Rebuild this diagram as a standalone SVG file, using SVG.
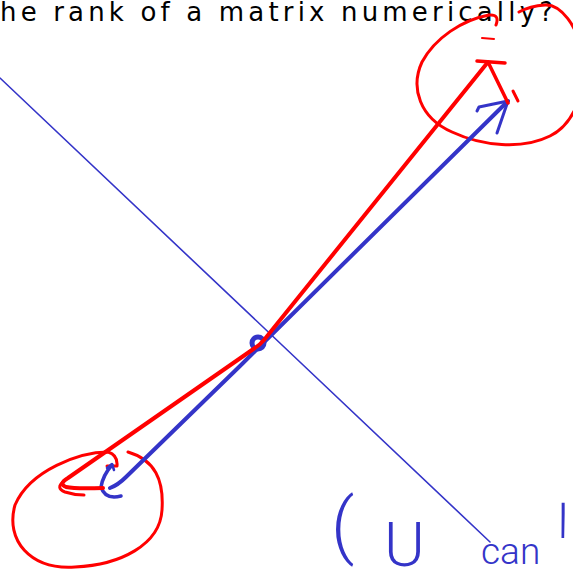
<svg xmlns="http://www.w3.org/2000/svg" width="573" height="571" viewBox="0 0 573 571">
<style>
.red{fill:none;stroke:#ff0000;stroke-linecap:round;stroke-linejoin:round}
.blue{fill:none;stroke:#3434c8;stroke-linecap:round;stroke-linejoin:round}
.title{font-family:"DejaVu Sans","Liberation Sans",sans-serif;font-size:26px;fill:#000}
.hand{font-family:Roboto,Lato,"Liberation Sans",sans-serif;font-weight:300;fill:#3434c8}
</style>
<rect width="573" height="571" fill="#fff"/>
<g id="title">
<text class="title" x="0" y="21" textLength="553" lengthAdjust="spacing">he rank of a matrix numerically?</text>
</g>
<g id="thin-line">
<path class="blue" d="M0,78 L490,542" stroke-width="1.6"/>
</g>
<g id="ellipse-top">
<path class="red" stroke-width="3" d="M496,25 Q500,14 489,15 C462,20 435,38 422,62 C410,88 420,118 452,132 C482,146 522,150 550,136 C574,124 588,90 582,55 C578,25 560,4 545,5 Q530,6 519,12"/>
<path class="red" stroke-width="2" d="M482,38 L494,39"/>
</g>
<g id="ellipse-bottom">
<path class="red" stroke-width="3" d="M107,466 L117,466 Q118,455 108,452 C80,452 30,470 15,505 C5,540 30,570 75,567 C120,565 160,545 162,510 C164,480 155,460 128,452"/>
</g>
<g id="center">
<circle class="blue" cx="258" cy="343" r="6" stroke-width="5"/>
</g>
<g id="blue-vector">
<path class="blue" stroke-width="4" d="M508,101 L240,366 L126,477 Q118,485 110,488"/>
<path class="blue" stroke-width="3" d="M477,111 L479,107 L508,101 L497,133"/>
<path class="blue" stroke-width="3.5" d="M121,496 Q105,500 101,487 Q103,475 112,465"/>
<path class="blue" stroke-width="2.5" d="M107,468 L112,464 L114,470"/>
</g>
<g id="red-vector">
<path class="red" stroke-width="4" d="M488,62 L264,340 Q260,345 252,350 L68,478 Q58,484 66,487 Q75,489 103,488"/>
<path class="red" stroke-width="3" d="M64,481 Q55,488 65,492 Q74,495 84,495"/>
<path class="red" stroke-width="3.5" d="M488,62 L508,103"/>
<path class="red" stroke-width="3.5" d="M477,61 L505,63"/>
<path class="red" stroke-width="3" d="M513,91 L518,101"/>
</g>
<g id="annotation">
<text class="hand" x="331" y="550" font-size="73">(</text>
<text class="hand" x="384" y="566" font-size="62">U</text>
<text class="hand" x="481" y="564" font-size="37">can</text>
<text class="hand" x="558" y="231" font-size="60" transform="scale(1,2.7)">'</text>
</g>
</svg>
